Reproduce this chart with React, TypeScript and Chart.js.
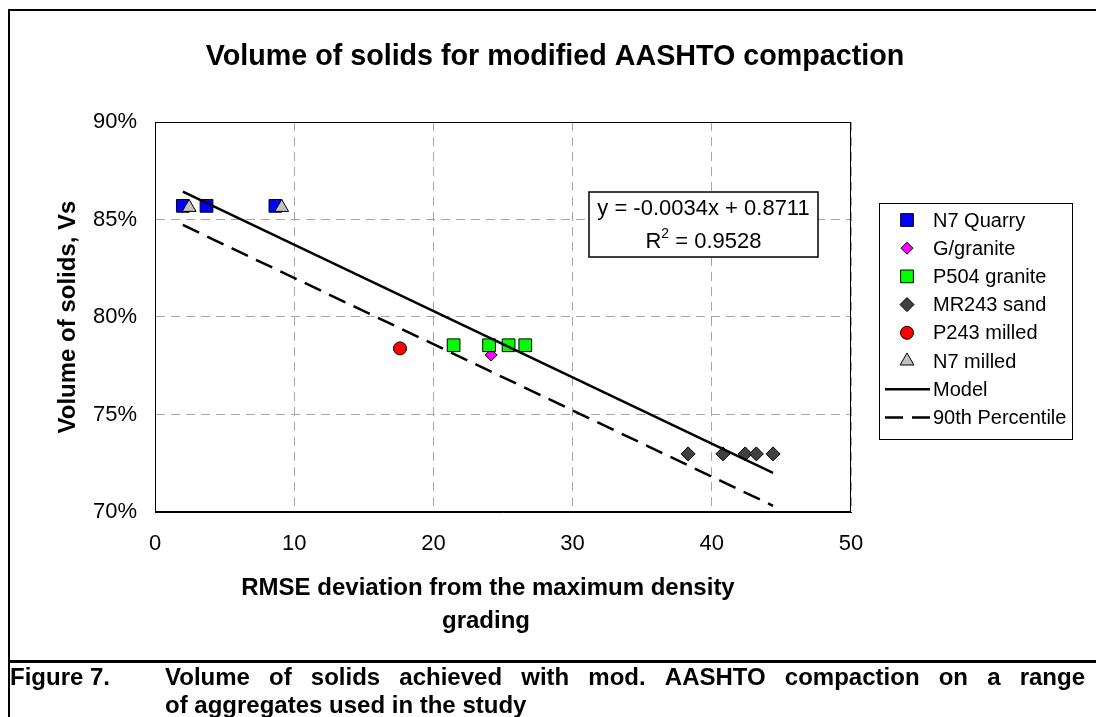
import React, { useEffect, useRef } from 'react';
import { Chart, registerables } from 'chart.js';

Chart.register(...registerables);

const FONT = "'Liberation Sans', Arial, Helvetica, sans-serif";

// ---- text ----
const chartTitle = 'Volume of solids for modified AASHTO compaction';
const xTitleLines = ['RMSE deviation from the maximum density', 'grading'];
const yTitle = 'Volume of solids, Vs';
const captionLabel = 'Figure 7.';
const captionLines = [
  'Volume of solids achieved with mod. AASHTO compaction on a range',
  'of aggregates used in the study',
];
const equationLine1 = 'y = -0.0034x + 0.8711';
const equationLine2Parts = ['R', '2', ' = 0.9528'];

// ---- axes ----
const xMin = 0;
const xMax = 50;
const xStep = 10;
const yMin = 0.7;
const yMax = 0.9;
const yStep = 0.05;

// ---- series ----
const n7QuarryX = [2.0, 3.7, 8.65];
const n7QuarryY = [0.857, 0.857, 0.857];
const gGraniteX = [24.15];
const gGraniteY = [0.7805];
const p504X = [21.45, 24.0, 25.4, 26.6];
const p504Y = [0.7855, 0.7855, 0.7855, 0.7855];
const mr243X = [38.3, 40.8, 42.4, 43.2, 44.4];
const mr243Y = [0.7298, 0.7298, 0.7298, 0.7298, 0.7298];
const p243X = [17.6];
const p243Y = [0.7839];
const n7MilledX = [2.45, 9.1];
const n7MilledY = [0.8562, 0.8562];
const modelX = [2.0, 44.4];
const modelY = [0.8643, 0.7201];
const pct90X = [2.0, 44.4];
const pct90Y = [0.8472, 0.7032];

const seriesNames = [
  'N7 Quarry',
  'G/granite',
  'P504 granite',
  'MR243 sand',
  'P243 milled',
  'N7 milled',
  'Model',
  '90th Percentile',
];

const zip = (xs: number[], ys: number[]) => xs.map((x, i) => ({ x, y: ys[i] }));

function drawMarker(ctx: CanvasRenderingContext2D, ds: any, x: number, y: number) {
  const r = ds.pointRadius;
  ctx.save();
  ctx.fillStyle = ds.backgroundColor;
  ctx.strokeStyle = ds.borderColor;
  ctx.lineWidth = ds.pointBorderWidth ?? 1;
  ctx.setLineDash([]);
  ctx.beginPath();
  if (ds.pointStyle === 'rect') {
    const s = Math.SQRT1_2 * r;
    ctx.rect(x - s, y - s, 2 * s, 2 * s);
  } else if (ds.pointStyle === 'rectRot') {
    ctx.moveTo(x - r, y);
    ctx.lineTo(x, y - r);
    ctx.lineTo(x + r, y);
    ctx.lineTo(x, y + r);
    ctx.closePath();
  } else if (ds.pointStyle === 'triangle') {
    for (let k = 0; k < 3; k++) {
      const ang = (k * 2 * Math.PI) / 3;
      const px = x + Math.sin(ang) * r;
      const py = y - Math.cos(ang) * r;
      if (k === 0) ctx.moveTo(px, py);
      else ctx.lineTo(px, py);
    }
    ctx.closePath();
  } else {
    ctx.arc(x, y, r, 0, Math.PI * 2);
  }
  ctx.fill();
  ctx.stroke();
  ctx.restore();
}

const decorPlugin = {
  id: 'decor',
  beforeDraw(chart: any) {
    const ctx = chart.ctx;
    ctx.save();
    ctx.fillStyle = '#fff';
    ctx.fillRect(0, 0, chart.width, chart.height);
    ctx.restore();
  },
  afterDraw(chart: any) {
    const ctx: CanvasRenderingContext2D = chart.ctx;
    const a = chart.chartArea;
    ctx.save();
    ctx.setLineDash([]);

    // outer frame
    ctx.strokeStyle = '#000';
    ctx.lineWidth = 2;
    ctx.beginPath();
    ctx.moveTo(9, chart.height);
    ctx.lineTo(9, 10);
    ctx.lineTo(chart.width, 10);
    ctx.stroke();
    ctx.lineWidth = 3;
    ctx.beginPath();
    ctx.moveTo(8, 661.5);
    ctx.lineTo(chart.width, 661.5);
    ctx.stroke();

    // plot border
    ctx.lineWidth = 1;
    ctx.strokeStyle = '#000';
    ctx.strokeRect(a.left + 0.5, a.top + 0.5, a.right - a.left - 1, a.bottom - a.top - 1);

    // chart title
    ctx.fillStyle = '#000';
    ctx.textAlign = 'center';
    ctx.textBaseline = 'middle';
    ctx.font = `bold 28.7px ${FONT}`;
    ctx.fillText(chartTitle, 555, 57);

    // axis titles
    ctx.font = `bold 24px ${FONT}`;
    const cx = (a.left + a.right) / 2;
    ctx.fillText(xTitleLines[0], cx - 15, 588);
    ctx.fillText(xTitleLines[1], cx - 17, 621);
    ctx.save();
    ctx.translate(68, (a.top + a.bottom) / 2);
    ctx.rotate(-Math.PI / 2);
    ctx.fillText(yTitle, 0, 0);
    ctx.restore();

    // equation box
    ctx.fillStyle = '#fff';
    ctx.fillRect(589, 192, 229, 65);
    ctx.strokeStyle = '#000';
    ctx.lineWidth = 1.5;
    ctx.strokeRect(589, 192, 229, 65);
    ctx.fillStyle = '#000';
    ctx.font = `22px ${FONT}`;
    ctx.textAlign = 'center';
    ctx.fillText(equationLine1, 703.5, 209);
    const big = `22px ${FONT}`;
    const small = `14px ${FONT}`;
    ctx.font = big;
    const w0 = ctx.measureText(equationLine2Parts[0]).width;
    const w2 = ctx.measureText(equationLine2Parts[2]).width;
    ctx.font = small;
    const w1 = ctx.measureText(equationLine2Parts[1]).width;
    let sx = 703.5 - (w0 + w1 + w2) / 2;
    ctx.textAlign = 'left';
    ctx.font = big;
    ctx.fillText(equationLine2Parts[0], sx, 242);
    sx += w0;
    ctx.font = small;
    ctx.fillText(equationLine2Parts[1], sx, 234);
    sx += w1;
    ctx.font = big;
    ctx.fillText(equationLine2Parts[2], sx, 242);

    // legend
    const lx = 879, ly = 203, lw = 193, lh = 236;
    ctx.fillStyle = '#fff';
    ctx.fillRect(lx, ly, lw, lh);
    ctx.strokeStyle = '#000';
    ctx.lineWidth = 1;
    ctx.strokeRect(lx + 0.5, ly + 0.5, lw, lh);
    ctx.font = `20px ${FONT}`;
    ctx.textAlign = 'left';
    ctx.textBaseline = 'middle';
    const datasets = chart.data.datasets;
    for (let i = 0; i < seriesNames.length; i++) {
      const ds = datasets.find((d: any) => d.label === seriesNames[i]);
      const iy = 220 + i * 28.2;
      if (ds.showLine) {
        ctx.save();
        ctx.strokeStyle = ds.borderColor;
        ctx.lineWidth = ds.borderWidth;
        ctx.setLineDash(ds.borderDash || []);
        ctx.beginPath();
        ctx.moveTo(885, iy);
        ctx.lineTo(930, iy);
        ctx.stroke();
        ctx.restore();
      } else {
        drawMarker(ctx, ds, 907, iy);
      }
      ctx.fillStyle = '#000';
      ctx.fillText(seriesNames[i], 933, iy + 1);
    }

    // caption
    ctx.font = `bold 24px ${FONT}`;
    ctx.textAlign = 'left';
    ctx.textBaseline = 'middle';
    ctx.fillText(captionLabel, 10, 678);
    const words = captionLines[0].split(' ');
    const left = 165, right = 1085;
    const ww = words.map((w) => ctx.measureText(w).width);
    const total = ww.reduce((s, v) => s + v, 0);
    const gap = (right - left - total) / (words.length - 1);
    let px = left;
    words.forEach((w, k) => {
      ctx.fillText(w, px, 678);
      px += ww[k] + gap;
    });
    ctx.fillText(captionLines[1], left, 706);

    ctx.restore();
  },
};

export default function App() {
  const ref = useRef<HTMLCanvasElement | null>(null);

  useEffect(() => {
    if (!ref.current) return;
    const markerBase = { showLine: false, borderColor: '#000', pointBorderWidth: 1, borderWidth: 1 };
    const chart = new Chart(ref.current, {
      type: 'scatter',
      data: {
        datasets: [
          { ...markerBase, label: seriesNames[0], data: zip(n7QuarryX, n7QuarryY), pointStyle: 'rect', pointRadius: 9, backgroundColor: '#0000FF', order: 8 },
          { ...markerBase, label: seriesNames[1], data: zip(gGraniteX, gGraniteY), pointStyle: 'rectRot', pointRadius: 6, backgroundColor: '#FF00FF', order: 7 },
          { ...markerBase, label: seriesNames[2], data: zip(p504X, p504Y), pointStyle: 'rect', pointRadius: 9, backgroundColor: '#00FF00', order: 6 },
          { ...markerBase, label: seriesNames[3], data: zip(mr243X, mr243Y), pointStyle: 'rectRot', pointRadius: 7, backgroundColor: '#404040', order: 5 },
          { ...markerBase, label: seriesNames[4], data: zip(p243X, p243Y), pointStyle: 'circle', pointRadius: 6.5, backgroundColor: '#FF0000', order: 4 },
          { ...markerBase, label: seriesNames[5], data: zip(n7MilledX, n7MilledY), pointStyle: 'triangle', pointRadius: 8, backgroundColor: '#C0C0C0', order: 3 },
          { label: seriesNames[6], data: zip(modelX, modelY), showLine: true, borderColor: '#000', backgroundColor: '#000', borderWidth: 2.5, pointRadius: 0, order: 2 },
          { label: seriesNames[7], data: zip(pct90X, pct90Y), showLine: true, borderColor: '#000', backgroundColor: '#000', borderWidth: 2.5, borderDash: [18, 9], pointRadius: 0, order: 1 },
        ] as any,
      },
      options: {
        animation: false,
        responsive: false,
        devicePixelRatio: 1,
        layout: { padding: { left: 0, right: 245, top: 122, bottom: 0 } },
        plugins: {
          legend: { display: false },
          title: { display: false },
          tooltip: { enabled: false },
        },
        scales: {
          x: {
            type: 'linear',
            min: xMin,
            max: xMax,
            ticks: {
              stepSize: xStep,
              padding: 19,
              color: '#000',
              font: { family: FONT, size: 22 },
            },
            grid: { color: '#a6a6a6', lineWidth: 1, drawTicks: false },
            border: { display: true, color: '#000', width: 1, dash: [9, 6] },
            afterFit: (s: any) => {
              s.height = 205;
            },
          },
          y: {
            type: 'linear',
            min: yMin,
            max: yMax,
            ticks: {
              stepSize: yStep,
              padding: 18,
              color: '#000',
              font: { family: FONT, size: 22 },
              callback: (v: any) => `${Math.round(Number(v) * 100)}%`,
            },
            grid: { color: '#a6a6a6', lineWidth: 1, drawTicks: false },
            border: { display: true, color: '#000', width: 1, dash: [9, 6] },
            afterFit: (s: any) => {
              s.width = 155;
            },
          },
        },
      } as any,
      plugins: [decorPlugin],
    });
    return () => chart.destroy();
  }, []);

  return (
    <div style={{ position: 'absolute', left: 0, top: 0, width: 1096, height: 717, overflow: 'hidden', background: '#fff' }}>
      <canvas ref={ref} width={1096} height={717} style={{ display: 'block' }} />
    </div>
  );
}
